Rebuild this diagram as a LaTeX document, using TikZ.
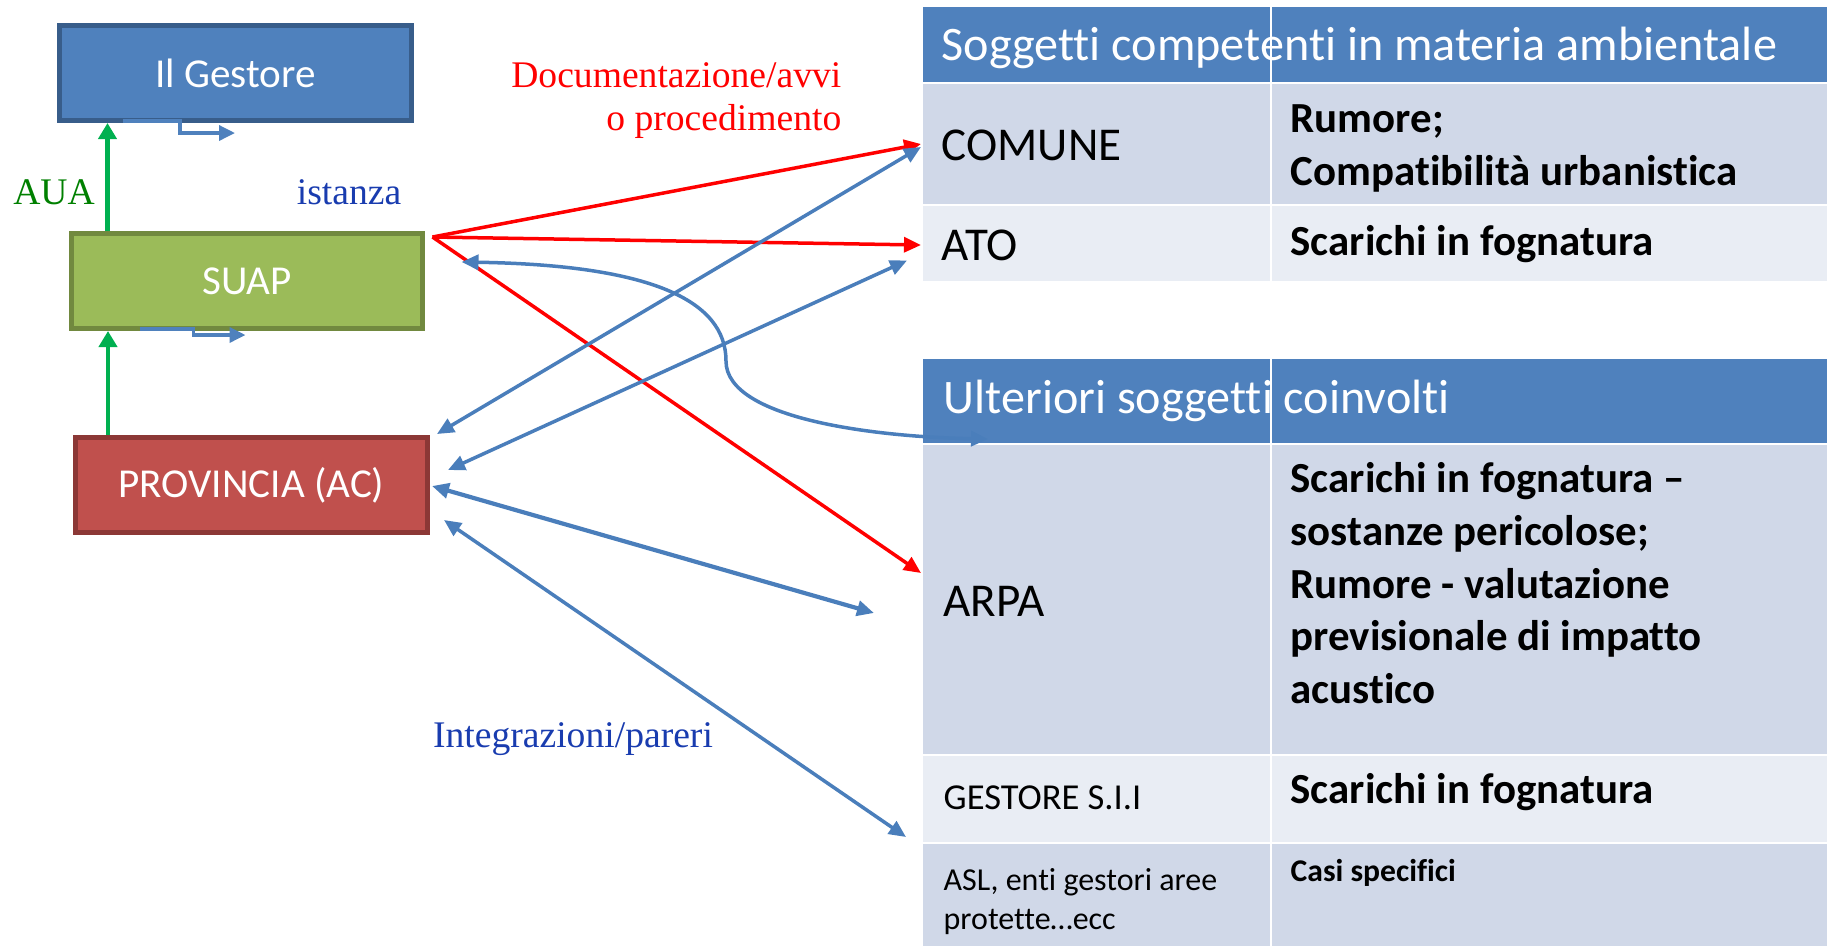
\documentclass[tikz,border=0pt]{standalone}
\usepackage{fontspec}
\setmainfont{Liberation Serif}
\newfontfamily\calfont[Ligatures=NoCommon]{Carlito}
\usetikzlibrary{arrows.meta}

\definecolor{accblue}{HTML}{4F81BD}
\definecolor{accblueline}{HTML}{385D8A}
\definecolor{accgreen}{HTML}{9BBB59}
\definecolor{accgreenline}{HTML}{71893F}
\definecolor{accred}{HTML}{C0504D}
\definecolor{accredline}{HTML}{8C3836}
\definecolor{rowdark}{HTML}{D0D8E8}
\definecolor{rowlight}{HTML}{E9EDF4}
\definecolor{linkblue}{HTML}{4A7EBB}
\definecolor{auagreen}{HTML}{00B050}
\definecolor{labgreen}{RGB}{0,128,0}
\definecolor{labblue}{RGB}{25,60,175}

\begin{document}
\begin{tikzpicture}[x=0.1mm,y=-0.1mm,>={Triangle[length=1.7mm,width=1.5mm]},
  box/.style={draw,line width=0.5mm,minimum width=35.2mm,minimum height=9.5mm,
    text=white,font=\calfont\fontsize{11.7}{14}\selectfont},
  cell/.style={draw=white,line width=0.2mm,anchor=north west,inner sep=0pt},
  cellhead/.style={cell,fill=accblue},
  celltxt/.style={inner sep=0pt,anchor=base west,font=\calfont\fontsize{13.4}{16}\selectfont},
  headtxt/.style={inner sep=0pt,anchor=base west,text=white,font=\calfont\fontsize{13.7}{16}\selectfont},
  desctxt/.style={inner sep=0pt,align=left,font=\calfont\bfseries\fontsize{12.2}{15}\selectfont},
  lab/.style={inner sep=0pt,font=\fontsize{10.7}{12.2}\selectfont},
  doclink/.style={->,draw=red,line width=0.35mm},
  infolink/.style={<->,draw=linkblue,line width=0.35mm},
  auaarrow/.style={->,draw=auagreen,line width=0.43mm,>={Triangle[length=1.6mm,width=1.8mm]}},
  elbow/.style={->,draw=accblue,line width=0.35mm,>={Triangle[length=1.6mm,width=1.5mm]}}]
  \useasboundingbox (0,0) rectangle (1827,945);

  % soggetti del procedimento
  \node[box,fill=accblue,draw=accblueline] (gestore) at (235.5,73) {Il Gestore};
  \node[box,fill=accgreen,draw=accgreenline] (suap) at (247,281) {SUAP};
  \node[box,fill=accred,draw=accredline] (prov) at (251.5,485) {PROVINCIA (AC)};

  % tabella soggetti competenti
  \node[cellhead,minimum width=34.9mm,minimum height=7.7mm] (head1) at (921,5) {};
  \node[cellhead,minimum width=56mm,minimum height=7.7mm] (head1b) at (1270,5) {};
  \node[cell,fill=rowdark,minimum width=34.9mm,minimum height=12.2mm] (comune) at (921,82) {};
  \node[cell,fill=rowdark,minimum width=56mm,minimum height=12.2mm] (comuneb) at (1270,82) {};
  \node[cell,fill=rowlight,minimum width=34.9mm,minimum height=7.7mm] (ato) at (921,204) {};
  \node[cell,fill=rowlight,minimum width=56mm,minimum height=7.7mm] (atob) at (1270,204) {};
  \node[headtxt] (head1txt) at (941,60) {Soggetti competenti in materia ambientale};
  \node[celltxt] (comunetxt) at (941,160) {COMUNE};
  \node[desctxt,anchor=north west] (comunedesc) at (1290,104) {Rumore;\\Compatibilità urbanistica};
  \node[celltxt] (atotxt) at (941,260) {ATO};
  \node[desctxt,anchor=base west] (atodesc) at (1290,255) {Scarichi in fognatura};

  % tabella ulteriori soggetti
  \node[cellhead,minimum width=34.9mm,minimum height=8.6mm] (head2) at (921,357) {};
  \node[cellhead,minimum width=56mm,minimum height=8.6mm] (head2b) at (1270,357) {};
  \node[cell,fill=rowdark,minimum width=34.9mm,minimum height=31.1mm] (arpa) at (921,443) {};
  \node[cell,fill=rowdark,minimum width=56mm,minimum height=31.1mm] (arpab) at (1270,443) {};
  \node[cell,fill=rowlight,minimum width=34.9mm,minimum height=8.8mm] (gestsii) at (921,754) {};
  \node[cell,fill=rowlight,minimum width=56mm,minimum height=8.8mm] (gestsiib) at (1270,754) {};
  \node[cell,fill=rowdark,minimum width=34.9mm,minimum height=10.8mm] (asl) at (921,842) {};
  \node[cell,fill=rowdark,minimum width=56mm,minimum height=10.8mm] (aslb) at (1270,842) {};
  \node[headtxt] (head2txt) at (943,413) {Ulteriori soggetti coinvolti};
  \node[celltxt] (arpatxt) at (943,616) {ARPA};
  \node[desctxt,anchor=north west] (arpadesc) at (1290,462)
    {Scarichi in fognatura –\\sostanze pericolose;\\Rumore - valutazione\\previsionale di impatto\\acustico};
  \node[celltxt,font=\calfont\fontsize{10.4}{12}\selectfont] (gestsiitxt) at (943,809) {GESTORE S.I.I};
  \node[desctxt,anchor=base west] (gestsiidesc) at (1290,803) {Scarichi in fognatura};
  \node[celltxt,anchor=north west,align=left,font=\calfont\fontsize{9.1}{11.1}\selectfont] (asltxt)
    at (943,868) {ASL, enti gestori aree\\protette…ecc};
  \node[desctxt,anchor=base west,font=\calfont\bfseries\fontsize{9}{11}\selectfont] (asldesc)
    at (1290,881) {Casi specifici};

  % etichette
  \node[lab,text=labgreen] (aua) at (54,192) {AUA};
  \node[lab,text=labblue,anchor=base] (istanza) at (349,204) {istanza};
  \node[lab,text=red,align=right,anchor=north east] (doc) at (842,62) {Documentazione/avvi\\o procedimento};
  \node[lab,text=labblue,anchor=base] (integr) at (573,747) {Integrazioni/pareri};

  % AUA verso il gestore
  \coordinate (auasuap) at ([xshift=3.9mm]suap.north west);
  \coordinate (auaprov) at ([xshift=3.5mm]prov.north west);
  \draw[auaarrow] (auasuap) -- (auasuap |- gestore.south);
  \draw[auaarrow] (auaprov) -- (auaprov |- suap.south);
  \draw[elbow] ([shift={(66,-2)}]gestore.south west) -- ++(57,0) -- ++(0,12) -- ++(55,0);
  \draw[elbow] ([shift={(71,-2)}]suap.south west) -- ++(54,0) -- ++(0,6) -- ++(52,0);

  % avvio procedimento
  \coordinate (docout) at ([shift={(7,6)}]suap.north east);
  \draw[doclink] (docout) -- (comune.west);
  \draw[doclink] (docout) -- ([yshift=-0.15mm]ato.west);
  \draw[doclink] (docout) -- ([yshift=2.65mm]arpa.west);

  % integrazioni e pareri
  \draw[infolink] ([shift={(7,-1)}]prov.north east) -- ([yshift=-0.3mm]comune.west);
  \draw[infolink] ([shift={(18,-15)}]prov.east) -- ([shift={(-14,17)}]ato.west);
  \draw[infolink,line width=0.42mm] ([shift={(2,1)}]prov.east) -- ([shift={(-47,13.5)}]arpa.west);
  \draw[infolink] ([shift={(14,35)}]prov.east) -- ([shift={(-15,38)}]gestsii.west);
  \draw[infolink] ([shift={(36,-19)}]suap.east) .. controls (650,265) and (726,300) .. (726,361)
    .. controls (726,420) and (880,437) .. ([shift={(67,-6)}]head2.south west);
\end{tikzpicture}
\end{document}
